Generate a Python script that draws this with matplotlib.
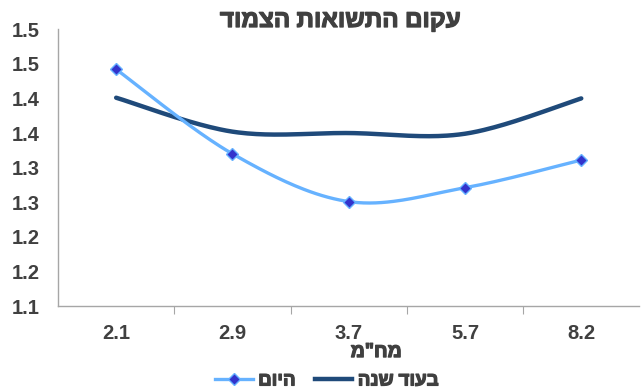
import numpy as np
import matplotlib
matplotlib.use("Agg")
import matplotlib.pyplot as plt
import matplotlib.patheffects as pe
from matplotlib.lines import Line2D

plt.rcParams['font.family'] = ['Liberation Sans', 'DejaVu Sans']
plt.rcParams['font.weight'] = 'bold'
HEB = ['Open Sans', 'Liberation Sans', 'DejaVu Sans']

# --- data ---
durations = ['2.1', '2.9', '3.7', '5.7', '8.2']
today = [1.442, 1.320, 1.251, 1.271, 1.311]
next_year = [1.401, 1.352, 1.350, 1.349, 1.400]
y_ticks = [1.10, 1.15, 1.20, 1.25, 1.30, 1.35, 1.40, 1.45, 1.50]
y_labels = ['1.1', '1.2', '1.2', '1.3', '1.3', '1.4', '1.4', '1.5', '1.5']

title = 'עקום התשואות הצמוד'
x_title = 'מח"מ'
name_today = 'היום'
name_next = 'בעוד שנה'

TEXT = '#404040'
LIGHT = '#66B2FF'
NAVY = '#1F4A7A'
# hebrew glyphs only come in a regular weight here, so thicken them with a stroke
BOLD = [pe.withStroke(linewidth=0.9, foreground=TEXT)]


def rtl(s):
    # matplotlib has no bidi support, so flip hebrew strings by hand
    return s[::-1]


def smooth(ax, xs, ys, n=40):
    # bezier smoothing done in screen space, like spreadsheet "smoothed lines"
    pts = ax.transData.transform(np.column_stack([xs, ys]))
    p = np.vstack([pts[0], pts, pts[-1]])
    t = np.linspace(0, 1, n)[:, None]
    out = []
    for i in range(1, len(p) - 2):
        p0, p1, p2, p3 = p[i - 1], p[i], p[i + 1], p[i + 2]
        c1 = p1 + (p2 - p0) / 6
        c2 = p2 - (p3 - p1) / 6
        seg = (1 - t) ** 3 * p1 + 3 * (1 - t) ** 2 * t * c1 + 3 * (1 - t) * t ** 2 * c2 + t ** 3 * p2
        out.append(seg)
    curve = ax.transData.inverted().transform(np.vstack(out))
    return curve[:, 0], curve[:, 1]


fig = plt.figure(figsize=(6.41, 3.89), dpi=100)
ax = fig.add_axes([0.0905, 0.213, 0.907, 0.712])
x = np.arange(len(durations))
ax.set_xlim(-0.5, len(durations) - 0.5)
ax.set_ylim(1.10, 1.50)

xs, ys = smooth(ax, x, next_year)
ax.plot(xs, ys, color=NAVY, lw=3.2, solid_capstyle='round', zorder=2)
xs, ys = smooth(ax, x, today)
ax.plot(xs, ys, color=LIGHT, lw=2.4, zorder=3)
ax.plot(x, today, ls='none', marker='D', ms=6.5, mfc='#3333CC', mec=LIGHT, mew=1, zorder=4)

# spines and ticks
for s in ['top', 'right']:
    ax.spines[s].set_visible(False)
for s in ['left', 'bottom']:
    ax.spines[s].set_color('#A6A6A6')
    ax.spines[s].set_linewidth(1)

ax.set_yticks(y_ticks)
ax.set_yticklabels(y_labels)
ax.tick_params(axis='y', length=0, pad=13.5, labelsize=14.5, labelcolor=TEXT)

ax.set_xticks(x[:-1] + 0.5)
ax.set_xticklabels([])
ax.set_xticks(x, minor=True)
ax.set_xticklabels(durations, minor=True)
ax.tick_params(axis='x', which='major', length=6, color='#A6A6A6', direction='out')
ax.tick_params(axis='x', which='minor', length=0, pad=13, labelsize=14.5, labelcolor=TEXT)

fig.text(0.530, 0.946, rtl(title), ha='center', va='center', fontsize=17.5,
         color=TEXT, family=HEB, path_effects=BOLD)
fig.text(0.587, 0.095, rtl(x_title), ha='center', va='center', fontsize=14,
         color=TEXT, family=HEB, path_effects=BOLD)

handles = [
    Line2D([], [], color=LIGHT, lw=2.4, marker='D', ms=6.5, mfc='#3333CC', mec=LIGHT),
    Line2D([], [], color=NAVY, lw=3.2),
]
leg = fig.legend(handles, [rtl(name_today), rtl(name_next)], loc='center',
                 bbox_to_anchor=(0.51, 0.022), ncol=2, frameon=False,
                 handlelength=2.0, handletextpad=0.3, columnspacing=1.0,
                 prop={'size': 13.5, 'family': HEB})
for t in leg.get_texts():
    t.set_color(TEXT)
    t.set_path_effects(BOLD)

fig.savefig('out.png', dpi=100)
